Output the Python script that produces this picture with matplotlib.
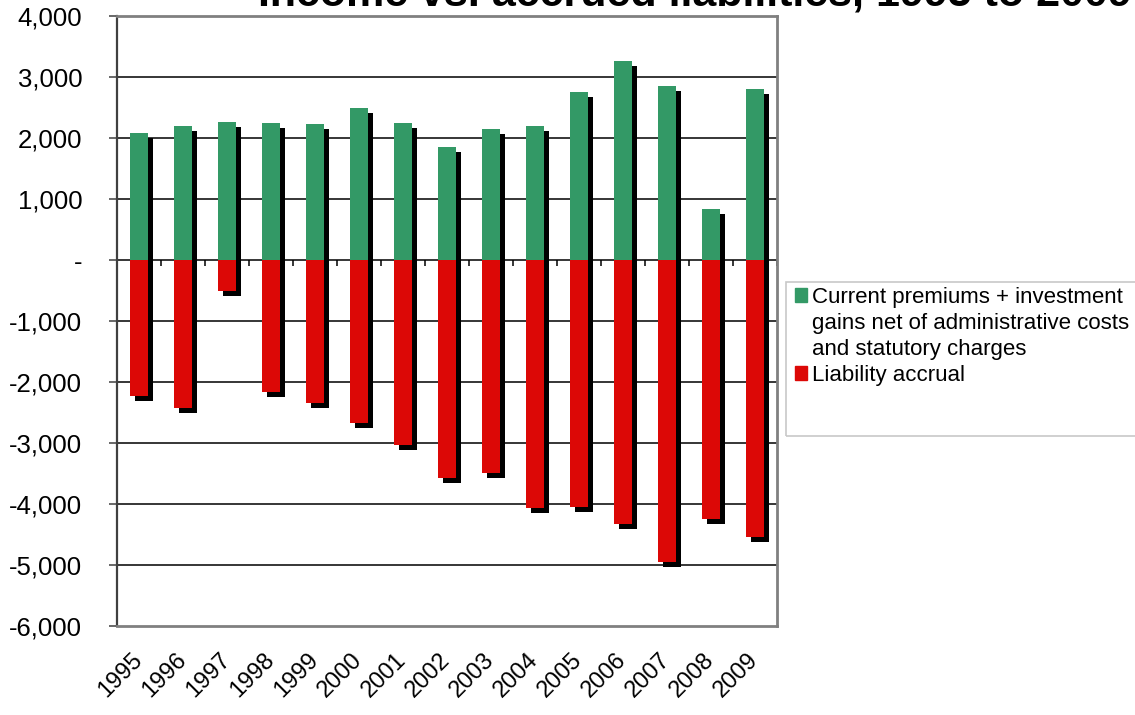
import numpy as np
import matplotlib.pyplot as plt
from matplotlib.patches import Rectangle
from matplotlib.ticker import FuncFormatter

# --- data ---
years = ["1995", "1996", "1997", "1998", "1999", "2000", "2001", "2002",
         "2003", "2004", "2005", "2006", "2007", "2008", "2009"]
income = [2075, 2200, 2265, 2245, 2225, 2495, 2245, 1845,
          2140, 2200, 2750, 3255, 2855, 830, 2810]
liability = [-2235, -2425, -510, -2170, -2340, -2670, -3035, -3580,
             -3495, -4070, -4045, -4335, -4945, -4250, -4545]
labels = ["Current premiums + investment",
          "gains net of administrative costs",
          "and statutory charges",
          "Liability accrual"]
title = "Income vs. accrued liabilities, 1995 to 2009"

GREEN = "#339966"
RED = "#dc0806"
FONT = "Liberation Sans"

W, H, DPI = 1135, 715, 100
fig = plt.figure(figsize=(W / DPI, H / DPI), dpi=DPI)
ax = fig.add_axes([117 / W, (H - 626) / H, 660 / W, 610 / H])

x = np.arange(len(years))
bw = 0.41
# drop shadow offset: ~5 px right and down
dx = 5 / 44
dy = 5 * 10000 / 610

ax.bar(x + dx, income, bw, bottom=-dy, color="black", zorder=2, linewidth=0)
ax.bar(x + dx, liability, bw, bottom=-dy, color="black", zorder=2, linewidth=0)
ax.bar(x, income, bw, color=GREEN, zorder=3, linewidth=0)
ax.bar(x, liability, bw, color=RED, zorder=3, linewidth=0)

ax.set_xlim(-0.5, len(years) - 0.5)
ax.set_ylim(-6000, 4000)
ax.set_yticks(np.arange(-6000, 4001, 1000))
ax.yaxis.set_major_formatter(FuncFormatter(lambda v, p: "-" if v == 0 else f"{v:,.0f}"))
for yv in np.arange(-5000, 4000, 1000):
    ax.axhline(yv, color="black", lw=1.1, zorder=1)

# category boundary ticks on the zero line
bounds = np.arange(len(years) + 1) - 0.5
ax.vlines(bounds[1:], 0, -6 * 10000 / 610, color="black", lw=1.1, zorder=1)

ax.set_xticks(x)
ax.set_xticklabels(years, rotation=45, ha="right", va="center",
                   rotation_mode="anchor", fontsize=17, family=FONT)
ax.tick_params(axis="x", length=0, pad=22)
ax.tick_params(axis="y", length=6, width=1.1, color="#404040", direction="out",
               labelsize=18.5, pad=19)
for t in ax.get_yticklabels():
    t.set_family(FONT)

for side in ["top", "right", "bottom"]:
    ax.spines[side].set_color("#808080")
    ax.spines[side].set_linewidth(2)
ax.spines["left"].set_color("#404040")
ax.spines["left"].set_linewidth(1.6)

# title, partly above the top edge
fig.text(1132 / W, 1 - 6 / H, title, ha="right", va="baseline",
         fontsize=31, fontweight="bold", family=FONT)

# legend box
fig.patches.append(Rectangle((786 / W, 1 - 436 / H), 360 / W, 154 / H,
                             transform=fig.transFigure, fill=False,
                             edgecolor="#c8c8c8", lw=1.2))
handles = [Rectangle((0, 0), 1, 1, color=GREEN),
           Rectangle((0, 0), 1, 1, fill=False, lw=0),
           Rectangle((0, 0), 1, 1, fill=False, lw=0),
           Rectangle((0, 0), 1, 1, color=RED)]
fig.legend(handles, labels, loc="upper left", bbox_to_anchor=(788 / W, 1 - 280 / H),
           frameon=False, prop={"family": FONT, "size": 16},
           handlelength=0.55, handleheight=0.55, handletextpad=0.25,
           labelspacing=0.23, borderpad=0.3, borderaxespad=0)

fig.savefig("out.png", dpi=DPI, facecolor="white")
